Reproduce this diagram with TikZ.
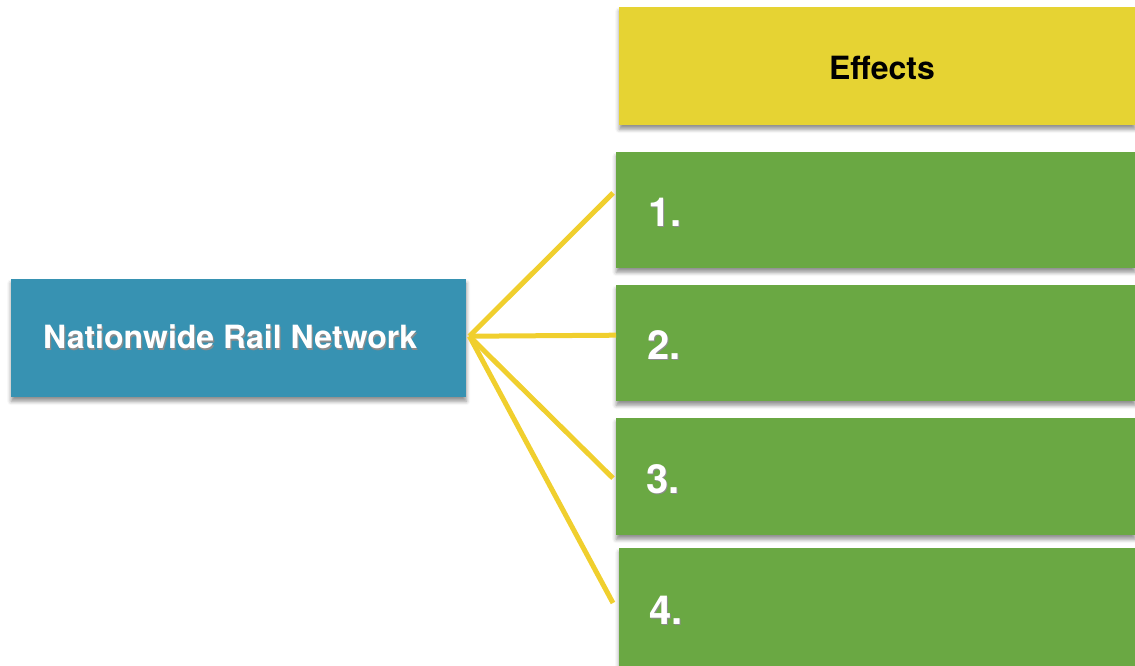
\documentclass[tikz,border=0pt]{standalone}
\usepackage{fontspec}
\setmainfont{TeX Gyre Heros}
\usetikzlibrary{shadows.blur,calc}
\definecolor{railblue}{HTML}{3792B2}
\definecolor{headyellow}{HTML}{E6D333}
\definecolor{effgreen}{HTML}{6AA843}
\definecolor{linkyellow}{HTML}{F0CF2E}
% white lettering with a soft grey drop behind it
\newcommand{\liftedtext}[1]{\makebox[0pt][l]{\hspace{1.2pt}\raisebox{-1.6pt}{\textcolor{black!45}{#1}}}#1}
\tikzset{
  card/.style={rectangle, inner sep=0pt, anchor=north west,
    blur shadow={shadow xshift=0pt, shadow yshift=-4pt, shadow blur radius=4pt, shadow opacity=45}},
  label/.style={font=\bfseries\fontsize{32}{37}\selectfont, inner sep=0pt},
  numlabel/.style={font=\bfseries\fontsize{40}{46}\selectfont, text=white, inner sep=0pt, anchor=base west},
  link/.style={draw=linkyellow, line width=5pt}
}
\begin{document}
\begin{tikzpicture}[x=1pt,y=-1pt]
\useasboundingbox (0,0) rectangle (1135,666);
% header and the four effect cards
\node[card, fill=headyellow, minimum width=516pt, minimum height=118pt] (head) at (619,7) {};
\node[card, fill=effgreen, minimum width=519pt, minimum height=116pt] (g1) at (616,152) {};
\node[card, fill=effgreen, minimum width=519pt, minimum height=116pt] (g2) at (616,285) {};
\node[card, fill=effgreen, minimum width=519pt, minimum height=117pt] (g3) at (616,418) {};
\node[card, fill=effgreen, minimum width=516pt, minimum height=125pt] (g4) at (619,548) {};
% the cause
\node[card, fill=railblue, minimum width=455pt, minimum height=118pt] (rail) at (11,279) {};
% labels
\node[label, text=black] (headtext) at (882,68) {Effects};
\node[label, text=white, anchor=west] (railtext) at (43,338) {\liftedtext{Nationwide Rail Network}};
\node[numlabel] (n1) at (648,226) {\liftedtext{1.}};
\node[numlabel] (n2) at (647,359) {\liftedtext{2.}};
\node[numlabel] (n3) at (646,493) {\liftedtext{3.}};
\node[numlabel] (n4) at (649,624) {\liftedtext{4.}};
% fan of connectors
\coordinate (hub) at ($(rail.east)+(3,-2)$);
\draw[link] (hub) -- ($(g1.north west)+(-3,41)$);
\draw[link] (hub) -- ($(g2.west)+(0,-8)$);
\draw[link] (hub) -- ($(g3.west)+(-3,1.5)$);
\draw[link] (hub) -- ($(g4.north west)+(-6,55)$);
\end{tikzpicture}
\end{document}
